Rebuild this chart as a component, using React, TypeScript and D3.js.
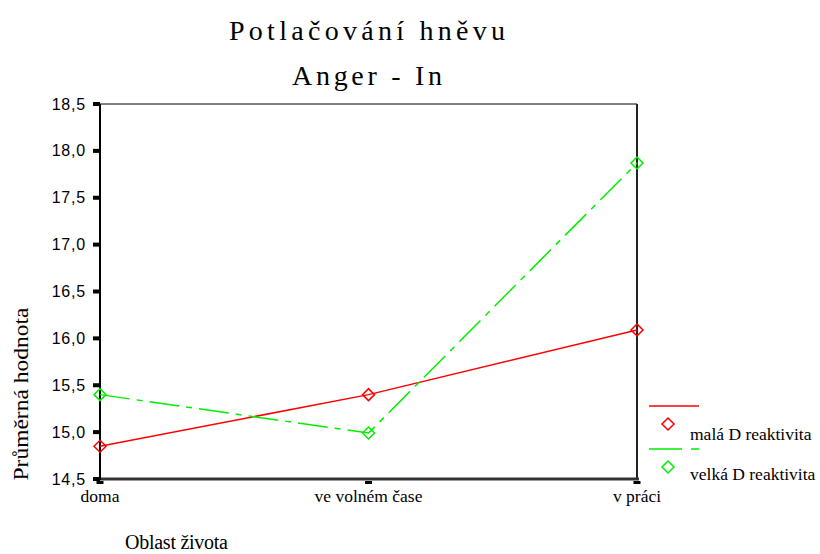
import React from "react";
import * as d3 from "d3";

const categories = ["doma", "ve volném čase", "v práci"];
const seriesNames = ["malá D reaktivita", "velká D reaktivita"];
const malaValues = [14.85, 15.4, 16.09];
const velkaValues = [15.4, 14.99, 17.87];
const yTicks = [14.5, 15.0, 15.5, 16.0, 16.5, 17.0, 17.5, 18.0, 18.5];

const W = 820;
const H = 554;
const left = 100;
const right = 637;
const top = 104;
const bottom = 479;
const SERIF = "Liberation Serif";
const SANS = "Liberation Sans";

export default function App() {
  const x = d3.scalePoint<string>().domain(categories).range([left, right]).padding(0);
  const y = d3.scaleLinear().domain([14.5, 18.5]).range([bottom, top]);
  const line = d3
    .line<number>()
    .x((_, i) => x(categories[i]) as number)
    .y((d) => y(d));
  const fmt = (v: number) => v.toFixed(1).replace(".", ",");
  const diamond = (cx: number, cy: number, r = 6) =>
    `M${cx},${cy - r}L${cx + r},${cy}L${cx},${cy + r}L${cx - r},${cy}Z`;

  const series = [
    { name: seriesNames[0], values: malaValues, color: "#ff0000", dash: undefined as string | undefined },
    { name: seriesNames[1], values: velkaValues, color: "#00ee00", dash: "30,7,6,7" },
  ];

  return (
    <svg width={W} height={H} style={{ position: "absolute", left: 0, top: 0, background: "#fff" }}>
      <rect x={0} y={0} width={W} height={H} fill="#fff" />
      <text x={367} y={40} textAnchor="middle" fontFamily={SERIF} fontSize={28} textLength={276} lengthAdjust="spacing">
        Potlačování hněvu
      </text>
      <text x={367} y={85} textAnchor="middle" fontFamily={SERIF} fontSize={28} textLength={150} lengthAdjust="spacing">
        Anger - In
      </text>

      {/* frame */}
      <line x1={left} y1={top} x2={right} y2={top} stroke="#000" strokeWidth={1} />
      <line x1={right} y1={top} x2={right} y2={bottom} stroke="#222" strokeWidth={2} />
      <line x1={left} y1={bottom} x2={right + 2} y2={bottom} stroke="#333" strokeWidth={3} />
      <line x1={left} y1={top} x2={left} y2={bottom + 1} stroke="#000" strokeWidth={2} />

      {yTicks.map((t) => (
        <g key={t}>
          <rect x={93} y={y(t) - 2} width={7} height={4} fill="#000" />
          <text x={86} y={y(t) + 5.5} textAnchor="end" fontFamily={SANS} fontSize={16} letterSpacing={0.8}>
            {fmt(t)}
          </text>
        </g>
      ))}

      {categories.map((c) => (
        <g key={c}>
          <rect x={(x(c) as number) - 3.5} y={bottom + 2} width={7} height={3} fill="#000" />
          <text x={x(c) as number} y={502} textAnchor="middle" fontFamily={SERIF} fontSize={17.5}>
            {c}
          </text>
        </g>
      ))}

      <text x={125} y={549} fontFamily={SERIF} fontSize={20} textLength={103} lengthAdjust="spacing">
        Oblast života
      </text>

      <text
        transform={`translate(28,394) rotate(-90)`}
        textAnchor="middle"
        fontFamily={SERIF}
        fontSize={20}
        textLength={173}
        lengthAdjust="spacingAndGlyphs"
      >
        Průměrná hodnota
      </text>

      {series.map((s) => (
        <g key={s.name}>
          <path d={line(s.values) || ""} fill="none" stroke={s.color} strokeWidth={1.5} strokeDasharray={s.dash} />
          {s.values.map((v, i) => (
            <path
              key={i}
              d={diamond(x(categories[i]) as number, y(v))}
              fill="none"
              stroke={s.color}
              strokeWidth={1.5}
            />
          ))}
        </g>
      ))}

      {/* legend */}
      <line x1={649} y1={406} x2={699} y2={406} stroke="#ff0000" strokeWidth={1.5} />
      <path d={diamond(668, 424)} fill="none" stroke="#ff0000" strokeWidth={1.5} />
      <text x={690} y={440} fontFamily={SERIF} fontSize={17.5}>
        {seriesNames[0]}
      </text>
      <line x1={649} y1={449} x2={699} y2={449} stroke="#00ee00" strokeWidth={1.5} strokeDasharray="33,9,8,7" />
      <path d={diamond(668, 467)} fill="none" stroke="#00ee00" strokeWidth={1.5} />
      <text x={690} y={480} fontFamily={SERIF} fontSize={17.5}>
        {seriesNames[1]}
      </text>
    </svg>
  );
}
